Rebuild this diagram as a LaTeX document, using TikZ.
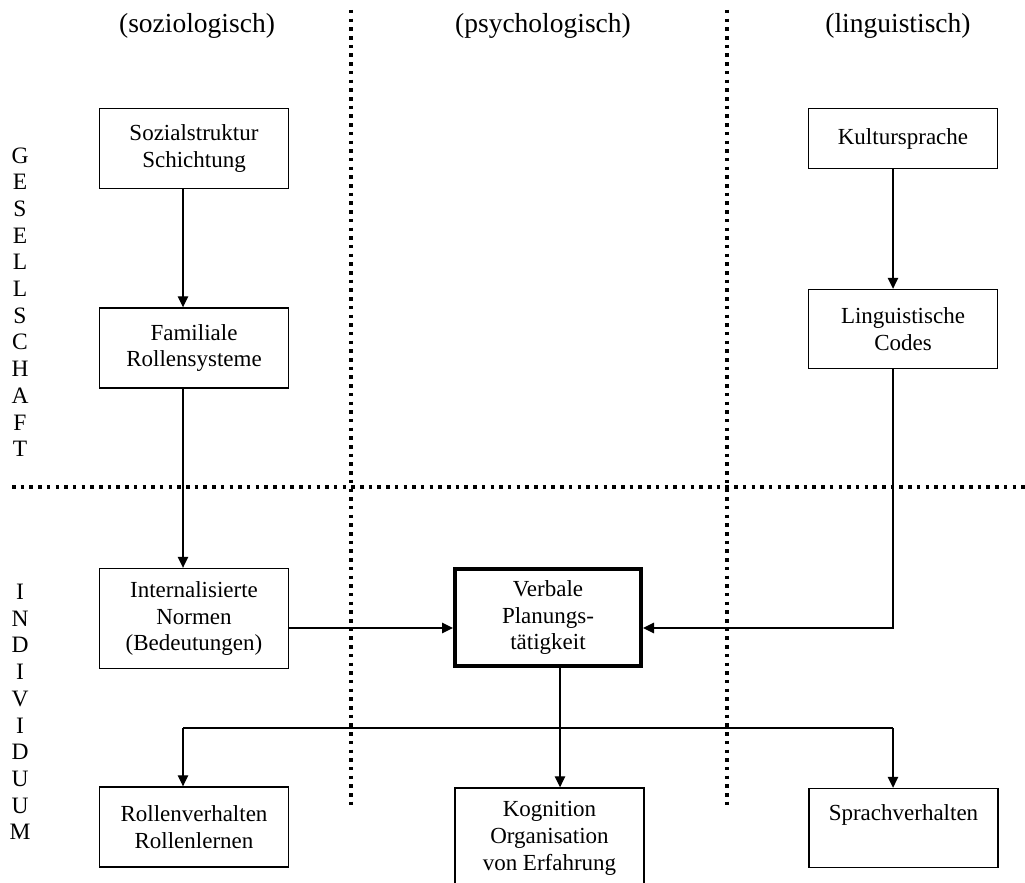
\documentclass[tikz,border=0pt]{standalone}
\usepackage{fontspec}
\setmainfont{Liberation Serif}
\usetikzlibrary{arrows.meta}
\newcommand\boxfont{\fontsize{23}{26.7}\selectfont}
\newcommand\headfont{\fontsize{27.5}{32}\selectfont}
\newcommand\letterfont{\fontsize{23.5}{26.7}\selectfont}
\begin{document}
\begin{tikzpicture}[x=1pt,y=-1pt,
  box/.style={draw, line width=1.4pt, minimum width=189pt, align=center, inner sep=0pt, font=\boxfont},
  thickbox/.style={box, line width=4pt, minimum width=186pt},
  conn/.style={line width=1.3pt, -{Triangle[length=11pt,width=10.5pt]}},
  plain/.style={line width=1.3pt},
  sep/.style={line width=3.5pt, dash pattern=on 3.5pt off 5.2pt},
  letter/.style={anchor=base, inner sep=0pt, font=\letterfont},
  head/.style={anchor=base, inner sep=0pt, font=\headfont}]
\useasboundingbox (0,0) rectangle (1025,883);
\clip (0,0) rectangle (1025,883);

% separators
\draw[sep] (351,10) -- (351,806);
\draw[sep] (727,10) -- (727,806);
\draw[sep] (12,487) -- (1025,487);

% headers
\node[head] (h1) at (197,33) {(soziologisch)};
\node[head] (h2) at (543,33) {(psychologisch)};
\node[head] (h3) at (898,33) {(linguistisch)};

% side letters
\foreach \l [count=\i] in {G,E,S,E,L,L,S,C,H,A,F,T}
  \node[letter] (g\i) at (20,{163+(\i-1)*26.7}) {\l};
\foreach \l [count=\i] in {I,N,D,I,V,I,D,U,U,M}
  \node[letter] (n\i) at (20,{599.5+(\i-1)*26.7}) {\l};

% boxes
\node[box, minimum height=80pt] (soz) at (194,148.5) {Sozialstruktur\\Schichtung};
\node[box, minimum height=80pt] (fam) at (194,348) {Familiale\\Rollensysteme};
\node[box, minimum height=100pt] (int) at (194,618.5) {Internalisierte\\Normen\\(Bedeutungen)};
\node[box, minimum height=80pt] (roll) at (194,827) {Rollenverhalten\\Rollenlernen};
\node[box, minimum height=60pt] (kult) at (903,138.5) {Kultursprache};
\node[box, minimum height=79pt] (ling) at (903,329) {Linguistische\\Codes};
\node[box, minimum height=79pt] (sprach) at (903.5,828) {\strut Sprachverhalten\\\strut};
\node[thickbox, minimum height=97pt] (verb) at (548,617.5) {Verbale\\Planungs-\\tätigkeit};
\node[box, minimum height=127pt] (kog) at (549.5,851.5) {\strut Kognition\\Organisation\\von Erfahrung\\\strut};

% helper coordinates
\coordinate (colA) at (183,0);
\coordinate (colB) at (560,0);
\coordinate (colC) at (893,0);
\coordinate (rowV) at (0,628);
\coordinate (branch) at (0,728);

% connectors
\draw[conn] (soz.south -| colA) -- (fam.north -| colA);
\draw[conn] (fam.south -| colA) -- (int.north -| colA);
\draw[conn] (kult.south -| colC) -- (ling.north -| colC);
\draw[conn] (ling.south -| colC) |- (verb.east |- rowV);
\draw[conn] (int.east |- rowV) -- (verb.west |- rowV);
\draw[conn] (verb.south -| colB) -- (kog.north -| colB);
\draw[plain] (colA |- branch) -- (colC |- branch);
\draw[conn] (colA |- branch) -- (roll.north -| colA);
\draw[conn] (colC |- branch) -- (sprach.north -| colC);
\end{tikzpicture}
\end{document}
